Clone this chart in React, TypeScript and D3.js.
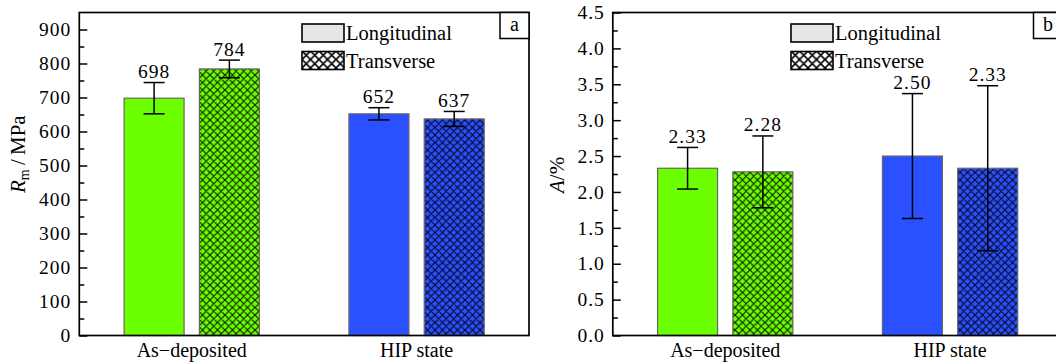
import React, { useEffect, useRef } from 'react';
import * as d3 from 'd3';

// groups and series
const categories = ['As\u2212deposited', 'HIP state'];
const seriesNames = ['Longitudinal', 'Transverse'];
const groupColors = ['#6cff00', '#2b50ff'];

// panel a: tensile strength Rm (MPa)
const rmLongitudinal = [698, 652];
const rmTransverse = [784, 637];
const rmLongitudinalErr = [46, 18];
const rmTransverseErr = [26, 22];
const rmTicks = [0, 100, 200, 300, 400, 500, 600, 700, 800, 900];
const rmMinorTicks = [50, 150, 250, 350, 450, 550, 650, 750, 850];

// panel b: elongation A (%)
const elongLongitudinal = [2.33, 2.5];
const elongTransverse = [2.28, 2.33];
const elongLongitudinalErr = [0.29, 0.87];
const elongTransverseErr = [0.5, 1.15];
const elongTicks = [0, 0.5, 1, 1.5, 2, 2.5, 3, 3.5, 4, 4.5];
const elongMinorTicks = [0.25, 0.75, 1.25, 1.75, 2.25, 2.75, 3.25, 3.75, 4.25];

const FONT = 'Liberation Serif';
const TOP = 12.5;
const BOTTOM = 335.5;
const PLOT_W = 449.7;

function drawPanel(svg, p) {
  const x = d3.scaleBand().domain(categories).range([p.left, p.left + PLOT_W]);
  const xSub = d3.scaleBand().domain(seriesNames)
    .range([0, x.bandwidth()])
    .paddingInner(0.203)
    .paddingOuter(0.595);
  const y = d3.scaleLinear().domain(p.domain).range([BOTTOM, TOP]);
  const valFmt = p.valFmt || p.fmt;

  const g = svg.append('g');

  const rows = [];
  categories.forEach((c, i) => {
    rows.push({ cat: c, s: seriesNames[0], v: p.long[i], e: p.longErr[i], color: groupColors[i], hatch: false });
    rows.push({ cat: c, s: seriesNames[1], v: p.trans[i], e: p.transErr[i], color: groupColors[i], hatch: true });
  });
  const bx = d => x(d.cat) + xSub(d.s);
  const bw = xSub.bandwidth();

  g.selectAll('rect.bar').data(rows).join('rect')
    .attr('class', 'bar')
    .attr('x', bx)
    .attr('y', d => y(d.v))
    .attr('width', bw)
    .attr('height', d => y(0) - y(d.v))
    .attr('fill', d => d.color);

  g.selectAll('rect.hatch').data(rows.filter(d => d.hatch)).join('rect')
    .attr('class', 'hatch')
    .attr('x', bx)
    .attr('y', d => y(d.v))
    .attr('width', bw)
    .attr('height', d => y(0) - y(d.v))
    .attr('fill', 'url(#cross)');

  g.selectAll('rect.outline').data(rows).join('rect')
    .attr('class', 'outline')
    .attr('x', bx)
    .attr('y', d => y(d.v))
    .attr('width', bw)
    .attr('height', d => y(0) - y(d.v))
    .attr('fill', 'none')
    .attr('stroke', '#666')
    .attr('stroke-width', 1.2);

  // error bars
  const cap = 10.5;
  const eb = g.selectAll('g.err').data(rows).join('g').attr('class', 'err')
    .attr('stroke', '#000').attr('stroke-width', 1.5);
  eb.append('line')
    .attr('x1', d => bx(d) + bw / 2).attr('x2', d => bx(d) + bw / 2)
    .attr('y1', d => y(d.v - d.e)).attr('y2', d => y(d.v + d.e));
  eb.append('line')
    .attr('x1', d => bx(d) + bw / 2 - cap).attr('x2', d => bx(d) + bw / 2 + cap)
    .attr('y1', d => y(d.v + d.e)).attr('y2', d => y(d.v + d.e));
  eb.append('line')
    .attr('x1', d => bx(d) + bw / 2 - cap).attr('x2', d => bx(d) + bw / 2 + cap)
    .attr('y1', d => y(d.v - d.e)).attr('y2', d => y(d.v - d.e));

  // value labels
  g.selectAll('text.val').data(rows).join('text')
    .attr('class', 'val')
    .attr('x', d => bx(d) + bw / 2)
    .attr('y', d => y(d.v + d.e) - 4.5)
    .attr('text-anchor', 'middle')
    .attr('font-family', FONT)
    .attr('font-size', 19.5)
    .attr('letter-spacing', 1)
    .text(d => valFmt(d.v));

  // y axis, ticks point inward
  const axis = g.append('g').attr('transform', `translate(${p.left},0)`)
    .call(d3.axisLeft(y).tickValues(p.ticks).tickSize(-8).tickPadding(8).tickFormat(p.fmt));
  axis.select('.domain').remove();
  axis.selectAll('line').attr('stroke-width', 1.5);
  axis.selectAll('text')
    .attr('font-family', FONT).attr('font-size', 19.5)
    .attr('letter-spacing', 1).attr('fill', '#000');

  const minor = g.append('g').attr('transform', `translate(${p.left},0)`)
    .call(d3.axisLeft(y).tickValues(p.minor).tickSize(-5).tickFormat(() => ''));
  minor.select('.domain').remove();
  minor.selectAll('line').attr('stroke-width', 1.5);

  // frame
  g.append('rect')
    .attr('x', p.left).attr('y', TOP)
    .attr('width', PLOT_W).attr('height', BOTTOM - TOP)
    .attr('fill', 'none').attr('stroke', '#000').attr('stroke-width', 1.7);

  // category labels
  g.selectAll('text.cat').data(categories).join('text')
    .attr('class', 'cat')
    .attr('x', c => x(c) + x.bandwidth() / 2)
    .attr('y', 357)
    .attr('text-anchor', 'middle')
    .attr('font-family', FONT)
    .attr('font-size', 20)
    .text(c => c);

  // legend
  const lg = g.append('g').attr('transform', `translate(${p.legendX},0)`);
  lg.append('rect').attr('x', 0).attr('y', 24).attr('width', 42).attr('height', 18)
    .attr('fill', '#e6e6e6').attr('stroke', '#000').attr('stroke-width', 1.6);
  lg.append('rect').attr('x', 0).attr('y', 51.5).attr('width', 42).attr('height', 18)
    .attr('fill', '#fff');
  lg.append('rect').attr('x', 0).attr('y', 51.5).attr('width', 42).attr('height', 18)
    .attr('fill', 'url(#crossLegend)').attr('stroke', '#000').attr('stroke-width', 1.6);
  lg.selectAll('text').data(seriesNames).join('text')
    .attr('x', 44)
    .attr('y', (d, i) => 40 + i * 27.5)
    .attr('font-family', FONT)
    .attr('font-size', 20.5)
    .text(d => d);

  // panel letter
  g.append('rect').attr('x', p.left + PLOT_W - 29).attr('y', TOP)
    .attr('width', 29).attr('height', 26)
    .attr('fill', '#fff').attr('stroke', '#000').attr('stroke-width', 1.5);
  g.append('text').attr('x', p.left + PLOT_W - 14.5).attr('y', 31)
    .attr('text-anchor', 'middle')
    .attr('font-family', FONT).attr('font-size', 20)
    .text(p.letter);

  // y title, rotated
  const t = g.append('text')
    .attr('transform', `translate(${p.titleX},193) rotate(-90)`)
    .attr('font-family', FONT)
    .attr('font-size', 21);
  p.title(t);
}

function addCross(defs, id, size, width, opacity) {
  const s = size;
  defs.append('pattern')
    .attr('id', id)
    .attr('patternUnits', 'userSpaceOnUse')
    .attr('width', s).attr('height', s)
    .append('path')
    .attr('d', `M0,0L${s},${s}M0,${s}L${s},0M-1,1L1,-1M${s - 1},${s + 1}L${s + 1},${s - 1}M-1,${s - 1}L1,${s + 1}M${s - 1},-1L${s + 1},1`)
    .attr('stroke', '#000').attr('stroke-opacity', opacity).attr('stroke-width', width);
}

export default function App() {
  const ref = useRef(null);

  useEffect(() => {
    const svg = d3.select(ref.current);
    svg.selectAll('*').remove();

    const defs = svg.append('defs');
    addCross(defs, 'cross', 7.5, 1.15, 0.9);
    addCross(defs, 'crossLegend', 8.5, 1.6, 1);

    drawPanel(svg, {
      left: 79.3,
      domain: [0, 950],
      long: rmLongitudinal, trans: rmTransverse,
      longErr: rmLongitudinalErr, transErr: rmTransverseErr,
      ticks: rmTicks, minor: rmMinorTicks,
      fmt: d3.format('d'),
      legendX: 302,
      letter: 'a',
      titleX: 25,
      title: t => {
        t.append('tspan').attr('font-style', 'italic').text('R');
        t.append('tspan').attr('font-size', 14).attr('dy', 4).text('m');
        t.append('tspan').attr('dy', -4).text('\u2009/\u2009MPa');
      },
    });

    drawPanel(svg, {
      left: 612.8,
      domain: [0, 4.5],
      long: elongLongitudinal, trans: elongTransverse,
      longErr: elongLongitudinalErr, transErr: elongTransverseErr,
      ticks: elongTicks, minor: elongMinorTicks,
      fmt: d3.format('.1f'),
      valFmt: d3.format('.2f'),
      legendX: 791,
      letter: 'b',
      titleX: 564,
      title: t => {
        t.append('tspan').attr('font-style', 'italic').text('A');
        t.append('tspan').text('/%');
      },
    });
  }, []);

  return (
    <svg ref={ref} width={1056} height={362}
      style={{ position: 'absolute', left: 0, top: 0, background: '#fff' }} />
  );
}
